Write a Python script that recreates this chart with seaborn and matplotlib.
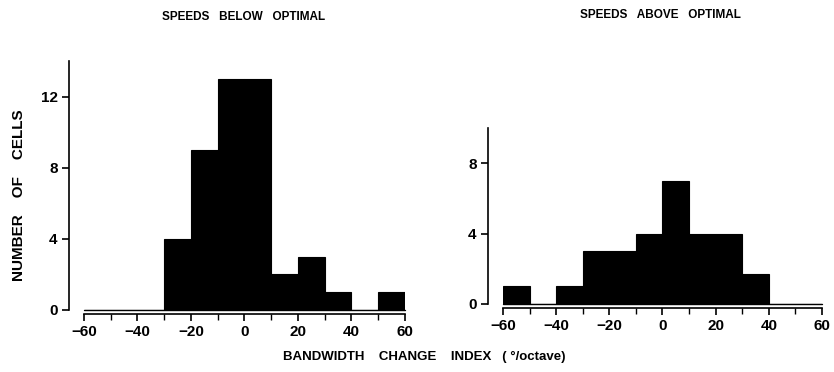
import matplotlib
matplotlib.use("Agg")
import matplotlib.pyplot as plt
import seaborn as sns
import numpy as np
from matplotlib.ticker import MultipleLocator

# ---- data ----
bin_edges = [-60, -50, -40, -30, -20, -10, 0, 10, 20, 30, 40, 50, 60]
bin_centers = [-55, -45, -35, -25, -15, -5, 5, 15, 25, 35, 45, 55]
below_counts = [0, 0, 0, 4, 9, 13, 13, 2, 3, 1, 0, 1]
above_counts = [1, 0, 1, 3, 3, 4, 7, 4, 4, 1.7, 0, 0]
x_ticks = [-60, -40, -20, 0, 20, 40, 60]
below_yticks = [0, 4, 8, 12]
above_yticks = [0, 4, 8]
title_below = "SPEEDS   BELOW   OPTIMAL"
title_above = "SPEEDS   ABOVE   OPTIMAL"
y_label = "NUMBER    OF    CELLS"
x_label = "BANDWIDTH    CHANGE    INDEX   ( °/octave)"

sns.set_style("ticks")
plt.rcParams["font.family"] = ["Liberation Sans", "DejaVu Sans"]
plt.rcParams["font.weight"] = "bold"
plt.rcParams["text.color"] = "black"
plt.rcParams["xtick.color"] = "black"
plt.rcParams["ytick.color"] = "black"
plt.rcParams["axes.edgecolor"] = "black"

fig = plt.figure(figsize=(8.34, 3.72), dpi=100)
ax1 = fig.add_axes([0.1007, 0.1667, 0.3849, 0.668])
ax2 = fig.add_axes([0.6031, 0.1828, 0.3825, 0.4731])

def draw(ax, counts, yticks, ytop):
    sns.histplot(x=bin_centers, weights=counts, bins=bin_edges, ax=ax,
                 color="black", edgecolor="black", linewidth=0.8, alpha=1.0)
    ax.axhline(0, color="black", linewidth=1.0, zorder=3, clip_on=False)
    ax.set_xlim(-60, 60)
    ax.set_ylim(0, ytop)
    for s in ["top", "right"]:
        ax.spines[s].set_visible(False)
    ax.spines["left"].set_position(("outward", 11))
    ax.spines["bottom"].set_position(("outward", 3))
    for s in ["left", "bottom"]:
        ax.spines[s].set_linewidth(1.2)
        ax.spines[s].set_color("black")
    ax.tick_params(axis="both", which="major", length=5, width=1.2, colors="black",
                   pad=3, labelsize=11)
    ax.tick_params(axis="x", which="minor", length=4, width=1.0, colors="black")
    ax.set_xticks(x_ticks)
    ax.xaxis.set_minor_locator(MultipleLocator(10))
    ax.set_yticks(yticks)
    ax.set_xticklabels([str(v).replace("-", "\u2212") for v in x_ticks],
                       fontweight="bold", fontsize=11)
    ax.set_yticklabels([str(v) for v in yticks], fontweight="bold", fontsize=11)
    ax.set_xlabel("")
    ax.set_ylabel("")
    ax.grid(False)

draw(ax1, below_counts, below_yticks, 14)
draw(ax2, above_counts, above_yticks, 10)

fig.text(244 / 834, 1 - 17 / 372, title_below, ha="center", va="center",
         fontsize=8.5, fontweight="bold", color="black")
fig.text(660 / 834, 1 - 15 / 372, title_above, ha="center", va="center",
         fontsize=8.5, fontweight="bold", color="black")
fig.text(19 / 834, 1 - 195 / 372, y_label, ha="center", va="center",
         rotation=90, fontsize=11, fontweight="bold", color="black")
fig.text(424 / 834, 1 - 357 / 372, x_label, ha="center", va="center",
         fontsize=9.5, fontweight="bold", color="black")

fig.savefig("out.png", dpi=100, facecolor="white")
